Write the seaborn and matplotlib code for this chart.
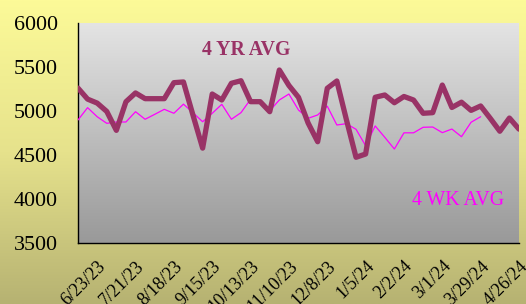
import numpy as np
import pandas as pd
import matplotlib
matplotlib.use("Agg")
import matplotlib.pyplot as plt
import seaborn as sns
from matplotlib.colors import LinearSegmentedColormap

sns.set_style("white")
plt.rcParams['font.family'] = ['Liberation Serif', 'DejaVu Serif']

# ---- data ----
yr4_avg = [5260, 5135, 5090, 4995, 4780, 5105, 5205, 5140, 5140, 5140,
           5322, 5330, 4950, 4578, 5193, 5125, 5315, 5344, 5106, 5106,
           4992, 5466, 5290, 5155, 4864, 4651, 5258, 5341, 4900, 4474,
           4511, 5156, 5182, 5094, 5165, 5125, 4974, 4981, 5295, 5040,
           5100, 5007, 5057, 4917, 4770, 4920, 4794]
wk4_avg = [4898, 5038, 4935, 4860, 4875, 4875, 4992, 4906, 4962, 5019,
           4974, 5078, 4980, 4878, 4974, 5076, 4906, 4981, 5133, 5087,
           5003, 5125, 5193, 5011, 4917, 4955, 5055, 4841, 4856, 4792,
           4606, 4830, 4701, 4568, 4752, 4752, 4815, 4818, 4754, 4795,
           4708, 4872, 4935]
tick_labels = ["6/23/23", "7/21/23", "8/18/23", "9/15/23", "10/13/23", "11/10/23",
               "12/8/23", "1/5/24", "2/2/24", "3/1/24", "3/29/24", "4/26/24"]
tick_index = [2, 6, 10, 14, 18, 22, 26, 30, 34, 38, 42, 46]
y_ticks = [3500, 4000, 4500, 5000, 5500, 6000]

df_yr = pd.DataFrame({"week": np.arange(len(yr4_avg)), "value": yr4_avg})
df_wk = pd.DataFrame({"week": np.arange(len(wk4_avg)), "value": wk4_avg})

fig = plt.figure(figsize=(5.26, 3.04), dpi=100)

# background gradient (yellow)
bg = fig.add_axes([0, 0, 1, 1], zorder=-10)
bg_cmap = LinearSegmentedColormap.from_list("bg", ["#FCFA98", "#E6E28C", "#B6B272"])
grad = np.linspace(0, 1, 256).reshape(-1, 1)
bg.imshow(grad, aspect="auto", cmap=bg_cmap, extent=[0, 1, 0, 1], origin="upper")
bg.set_axis_off()

ax = fig.add_axes([78/526, 1-243/304, 441/526, 220/304])
ax.patch.set_visible(False)
pa_cmap = LinearSegmentedColormap.from_list("pa", ["#E4E4E4", "#999999"])
ax.imshow(grad, aspect="auto", cmap=pa_cmap, extent=[0, 1, 0, 1],
          transform=ax.transAxes, origin="upper", zorder=0)

sns.lineplot(data=df_wk, x="week", y="value", ax=ax, color="#FF00FF",
             linewidth=0.9, zorder=3)
sns.lineplot(data=df_yr, x="week", y="value", ax=ax, color="#993366",
             linewidth=3.8, zorder=4, solid_joinstyle="round", solid_capstyle="round")

ax.set_xlim(0, len(yr4_avg) - 1)
ax.set_ylim(3500, 6000)
ax.set_xlabel("")
ax.set_ylabel("")
ax.set_yticks(y_ticks)
ax.set_yticklabels([str(v) for v in y_ticks], fontsize=15.8)
ax.set_xticks(tick_index)
ax.set_xticklabels(tick_labels, fontsize=13, rotation=45, ha="right",
                   rotation_mode="anchor")
ax.tick_params(axis="y", direction="out", length=5, width=1, pad=9.5, colors="black")
ax.tick_params(axis="x", direction="inout", length=7, width=1, pad=7, colors="black")

for s in ["top", "right"]:
    ax.spines[s].set_visible(False)
for s in ["left", "bottom"]:
    ax.spines[s].set_color("black")
    ax.spines[s].set_linewidth(1)

ax.text(0.281, 0.877, "4 YR AVG", transform=ax.transAxes, color="#993366",
        fontsize=14.3, fontweight="bold", ha="left", va="center", zorder=5)
ax.text(0.757, 0.195, "4 WK AVG", transform=ax.transAxes, color="#FF00FF",
        fontsize=14.3, ha="left", va="center", zorder=5)

fig.savefig("out.png", dpi=100)
